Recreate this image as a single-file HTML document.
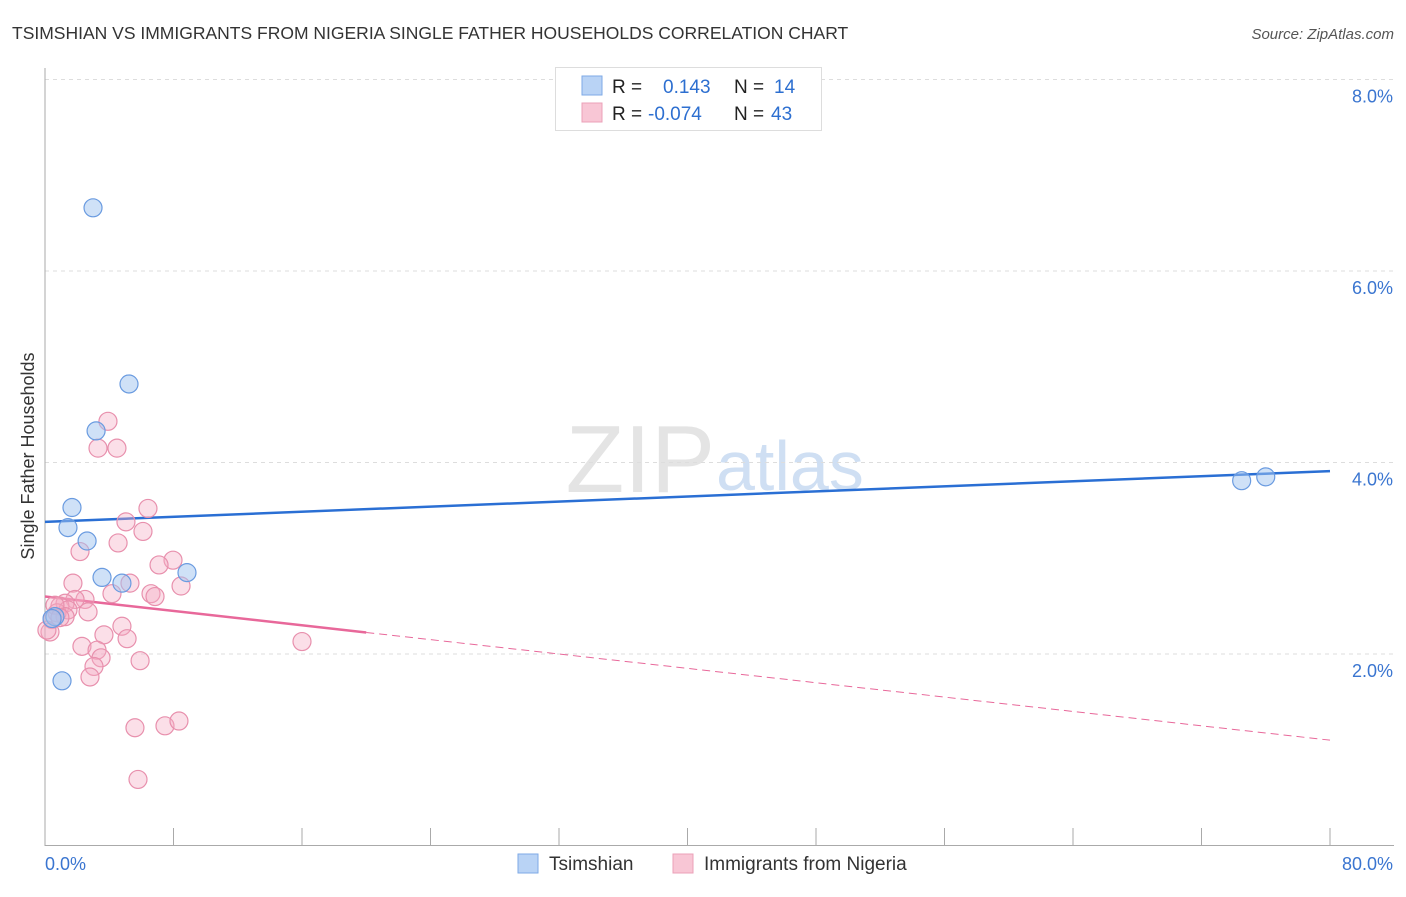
<!DOCTYPE html>
<html><head><meta charset="utf-8"><style>
body{margin:0;background:#fff;font-family:"Liberation Sans",sans-serif;}
svg text{font-family:"Liberation Sans",sans-serif;}
</style></head><body>
<svg id="chart" width="1406" height="892">
<text x="12" y="39" font-size="17.5" fill="#333">TSIMSHIAN VS IMMIGRANTS FROM NIGERIA SINGLE FATHER HOUSEHOLDS CORRELATION CHART</text>
<text x="1394" y="39" font-size="15" fill="#555" font-style="italic" text-anchor="end">Source: ZipAtlas.com</text>
<text x="715" y="492" font-size="96" fill="#e4e4e4" text-anchor="end" font-family="Liberation Serif">ZIP</text>
<text x="716" y="490" font-size="70" fill="#cfdff3">atlas</text>
<text transform="translate(34,456) rotate(-90)" font-size="18" fill="#333" text-anchor="middle">Single Father Households</text>
<g id="grid"></g><g id="axes"></g><g id="lines"></g><g id="pts"></g>
<g>
<rect x="555.5" y="67.5" width="266" height="63" fill="#fff" stroke="#ddd"/>
<rect x="582" y="76" width="20" height="19" fill="#b9d3f5" stroke="#7ea9e6"/>
<rect x="582" y="103" width="20" height="19" fill="#f8c6d5" stroke="#eba0b8"/>
<text x="612" y="93" font-size="19" fill="#222">R = </text><text x="663" y="93" font-size="19" fill="#2d6fd0">0.143</text>
<text x="734" y="93" font-size="19" fill="#222">N = </text><text x="774" y="93" font-size="19" fill="#2d6fd0">14</text>
<text x="612" y="120" font-size="19" fill="#222">R = </text><text x="648" y="120" font-size="19" fill="#2d6fd0">-0.074</text>
<text x="734" y="120" font-size="19" fill="#222">N = </text><text x="771" y="120" font-size="19" fill="#2d6fd0">43</text>
</g>
<g>
<rect x="518" y="854" width="20" height="19" fill="#b9d3f5" stroke="#7ea9e6"/>
<text x="549" y="870" font-size="19" fill="#333">Tsimshian</text>
<rect x="673" y="854" width="20" height="19" fill="#f8c6d5" stroke="#eba0b8"/>
<text x="704" y="870" font-size="19" fill="#333">Immigrants from Nigeria</text>
</g>
</svg>
<script>
const yTicks=[2,4,6,8];
const yTickLabels=["2.0%","4.0%","6.0%","8.0%"];
const xTicks=[0,8,16,24,32,40,48,56,64,72,80];
const blueX=[2.99,5.23,3.18,1.68,1.43,2.62,3.55,4.79,8.84,1.06,74.5,76.0,0.62,0.44];
const blueY=[6.66,4.82,4.33,3.53,3.32,3.18,2.80,2.74,2.85,1.72,3.81,3.85,2.39,2.37];
const pinkX=[3.92,3.30,4.48,6.41,5.04,6.10,4.55,2.18,7.97,7.10,5.29,1.74,8.47,4.17,6.60,6.85,2.49,1.87,1.25,0.93,1.43,2.68,0.75,1.25,0.44,0.31,4.79,3.67,5.11,2.30,3.24,16.0,3.49,5.92,3.05,2.80,5.60,7.47,8.34,5.79,0.62,0.12,0.93];
const pinkY=[4.43,4.15,4.15,3.52,3.38,3.28,3.16,3.07,2.98,2.93,2.74,2.74,2.71,2.63,2.63,2.60,2.57,2.57,2.53,2.50,2.46,2.44,2.43,2.39,2.36,2.23,2.29,2.20,2.16,2.08,2.04,2.13,1.96,1.93,1.87,1.76,1.23,1.25,1.30,0.69,2.51,2.25,2.38];
const blueTrend=[3.38,3.91];
const pinkTrend=[2.60,1.10];
const pinkSolidEnd=20;
const NS="http://www.w3.org/2000/svg";
const X=v=>45+v*(1285/80);
const Y=v=>845.5-v*95.75;
function mk(tag,attrs,parent){const e=document.createElementNS(NS,tag);for(const k in attrs)e.setAttribute(k,attrs[k]);document.getElementById(parent).appendChild(e);return e;}
yTicks.forEach((t,i)=>{
 const g=mk('line',{x1:45,x2:1394,y1:Y(t),y2:Y(t),stroke:'#ddd','stroke-dasharray':'4,4'},'grid');
 
 
 const tx=mk('text',{x:1393,y:Y(t)+23,'font-size':18,fill:'#3a75d0','text-anchor':'end'},'grid');
 tx.textContent=yTickLabels[i];
 
 
});
const topGrid=mk('line',{x1:45,x2:1394,y1:Y(8),y2:Y(8),stroke:'#ddd','stroke-dasharray':'4,4'},'grid');


const ax=mk('line',{x1:45,x2:45,y1:68,y2:846,stroke:'#aaa'},'axes');


const bx=mk('line',{x1:45,x2:1394,y1:845.5,y2:845.5,stroke:'#aaa'},'axes');


xTicks.forEach(t=>{
 const l=mk('line',{x1:X(t),x2:X(t),y1:828,y2:846,stroke:'#aaa'},'axes');
 
 
});
const xl0=mk('text',{x:45,y:870,'font-size':18,fill:'#3a75d0'},'axes');xl0.textContent="0.0%";


const xl1=mk('text',{x:1393,y:870,'font-size':18,fill:'#3a75d0','text-anchor':'end'},'axes');xl1.textContent="80.0%";


function drawPts(xs,ys,fill,stroke,name){xs.forEach((x,i)=>{
 const c=mk('circle',{cx:X(x),cy:Y(ys[i]),r:9,fill:fill,stroke:stroke,'stroke-width':1.2},'pts');
 
 
});}
drawPts(pinkX,pinkY,'rgba(244,170,195,0.38)','#e890ad','nigeria-point');
drawPts(blueX,blueY,'rgba(160,196,240,0.5)','#6a9be0','tsimshian-point');
const bt=mk('line',{x1:X(0),y1:Y(blueTrend[0]),x2:X(80),y2:Y(blueTrend[1]),stroke:'#2a6fd4','stroke-width':2.5},'lines');


const pm=pinkTrend[0]+(pinkTrend[1]-pinkTrend[0])*pinkSolidEnd/80;
const ps=mk('line',{x1:X(0),y1:Y(pinkTrend[0]),x2:X(pinkSolidEnd),y2:Y(pm),stroke:'#e8689a','stroke-width':2.5},'lines');


const pd=mk('line',{x1:X(pinkSolidEnd),y1:Y(pm),x2:X(80),y2:Y(pinkTrend[1]),stroke:'#e8689a','stroke-width':1,'stroke-dasharray':'8,5'},'lines');


</script>
</body></html>
